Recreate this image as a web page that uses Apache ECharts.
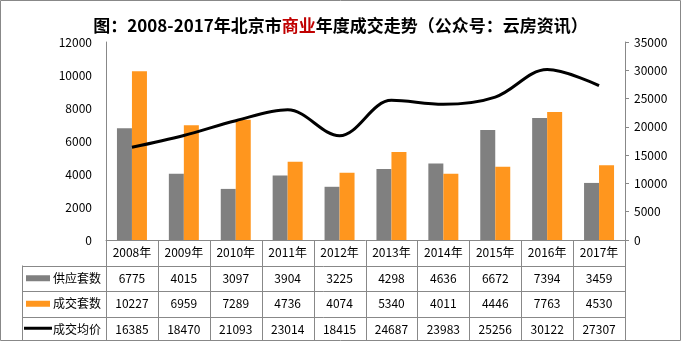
<!DOCTYPE html>
<html><head><meta charset="utf-8">
<script src="https://cdn.jsdelivr.net/npm/echarts@6/dist/echarts.min.js"></script>
<style>html,body{margin:0;padding:0;background:#fff}#c{width:681px;height:341px}</style>
</head><body><div id="c"></div>
<script>
var categories = ['2008年','2009年','2010年','2011年','2012年','2013年','2014年','2015年','2016年','2017年'];
var supply = [6775, 4015, 3097, 3904, 3225, 4298, 4636, 6672, 7394, 3459];
var deals = [10227, 6959, 7289, 4736, 4074, 5340, 4011, 4446, 7763, 4530];
var avgPrice = [16385, 18470, 21093, 23014, 18415, 24687, 23983, 25256, 30122, 27307];
var seriesNames = ['供应套数', '成交套数', '成交均价'];
var leftTicks = {min: 0, max: 12000, interval: 2000};
var rightTicks = {min: 0, max: 35000, interval: 5000};

var FONT = '"Noto Sans CJK SC", "Noto Sans", sans-serif';
var GRAY = '#808080', ORANGE = '#FF961E', LINE = '#888888';
var chart = echarts.init(document.getElementById('c'));
function plain(v) { return String(v); }
var option = {
  animation: false,
  textStyle: {fontFamily: FONT},
  title: {
    text: '{a|图：2008-2017年北京市}{r|商业}{a|年度成交走势（公众号：云房资讯）}',
    left: 'center', top: 12,
    textStyle: {rich: {
      a: {fontSize: 17, fontWeight: 'bold', color: '#000', fontFamily: FONT},
      r: {fontSize: 17, fontWeight: 'bold', color: '#C00000', fontFamily: FONT}
    }}
  },
  grid: {left: 106, right: 56, top: 42, bottom: 101},
  xAxis: {
    type: 'category', data: categories,
    axisLine: {lineStyle: {color: LINE}},
    axisTick: {show: false},
    axisLabel: {color: '#000', fontSize: 12, margin: 6, fontFamily: FONT}
  },
  yAxis: [{
    type: 'value', min: leftTicks.min, max: leftTicks.max, interval: leftTicks.interval,
    axisLine: {show: true, lineStyle: {color: LINE}},
    axisTick: {show: false}, splitLine: {show: false},
    axisLabel: {color: '#000', fontSize: 12, margin: 14, fontFamily: FONT, formatter: plain}
  }, {
    type: 'value', min: rightTicks.min, max: rightTicks.max, interval: rightTicks.interval,
    axisLine: {show: true, lineStyle: {color: LINE}},
    axisTick: {show: true, length: 4, lineStyle: {color: LINE}}, splitLine: {show: false},
    axisLabel: {color: '#000', fontSize: 12, margin: 9, fontFamily: FONT, formatter: plain}
  }],
  series: [
    {name: seriesNames[0], type: 'bar', data: supply, barWidth: 15, barGap: '0%', itemStyle: {color: GRAY}},
    {name: seriesNames[1], type: 'bar', data: deals, barWidth: 15, barGap: '0%', itemStyle: {color: ORANGE}},
    {name: seriesNames[2], type: 'line', yAxisIndex: 1, data: avgPrice, smooth: 0.35, symbol: 'none',
     lineStyle: {color: '#000', width: 3}}
  ]
};
chart.setOption(option);

// data table below the chart
var c0 = chart.convertToPixel({xAxisIndex: 0}, 0);
var c1 = chart.convertToPixel({xAxisIndex: 0}, 1);
var bw = c1 - c0;
var axisY = chart.convertToPixel({yAxisIndex: 0}, 0);
var gx0 = c0 - bw / 2, gx1 = gx0 + bw * categories.length;
var rowH = 25.5, headH = 24.5, labelLeft = 22;
var els = [];
function ln(x1, y1, x2, y2) {
  els.push({type: 'line', silent: true, shape: {x1: x1, y1: y1, x2: x2, y2: y2}, style: {stroke: LINE, lineWidth: 1}});
}
var rowTop = Math.round(axisY + headH) + 0.5;
for (var k = 0; k <= categories.length; k++) {
  var x = Math.round(gx0 + bw * k) + 0.5;
  ln(x, axisY, x, 341);
}
ln(labelLeft + 0.5, rowTop, labelLeft + 0.5, 341);
for (var r = 0; r < 3; r++) {
  var y = Math.round(rowTop + rowH * r) + 0.5;
  ln(labelLeft, y, Math.round(gx1) + 0.5, y);
}
var rows = [supply, deals, avgPrice];
for (var r = 0; r < 3; r++) {
  var cy = rowTop + rowH * r + rowH / 2;
  for (var i = 0; i < categories.length; i++) {
    els.push({type: 'text', silent: true, x: chart.convertToPixel({xAxisIndex: 0}, i), y: cy,
      style: {text: String(rows[r][i]), fill: '#000', font: '12px ' + FONT, align: 'center', verticalAlign: 'middle'}});
  }
  els.push({type: 'text', silent: true, x: 53, y: cy,
    style: {text: seriesNames[r], fill: '#000', font: '12px ' + FONT, align: 'left', verticalAlign: 'middle'}});
  if (r < 2) {
    els.push({type: 'rect', silent: true, shape: {x: 26, y: cy - 3, width: 24, height: 6}, style: {fill: r === 0 ? GRAY : ORANGE}});
  } else {
    els.push({type: 'line', silent: true, shape: {x1: 24, y1: cy - 1, x2: 52, y2: cy - 1}, style: {stroke: '#000', lineWidth: 3}});
  }
}
// outer border
els.push({type: 'rect', silent: true, shape: {x: 0.5, y: 0.5, width: 680, height: 340}, style: {fill: null, stroke: LINE, lineWidth: 1}});
chart.setOption({graphic: {elements: els}});
</script>
</body></html>
